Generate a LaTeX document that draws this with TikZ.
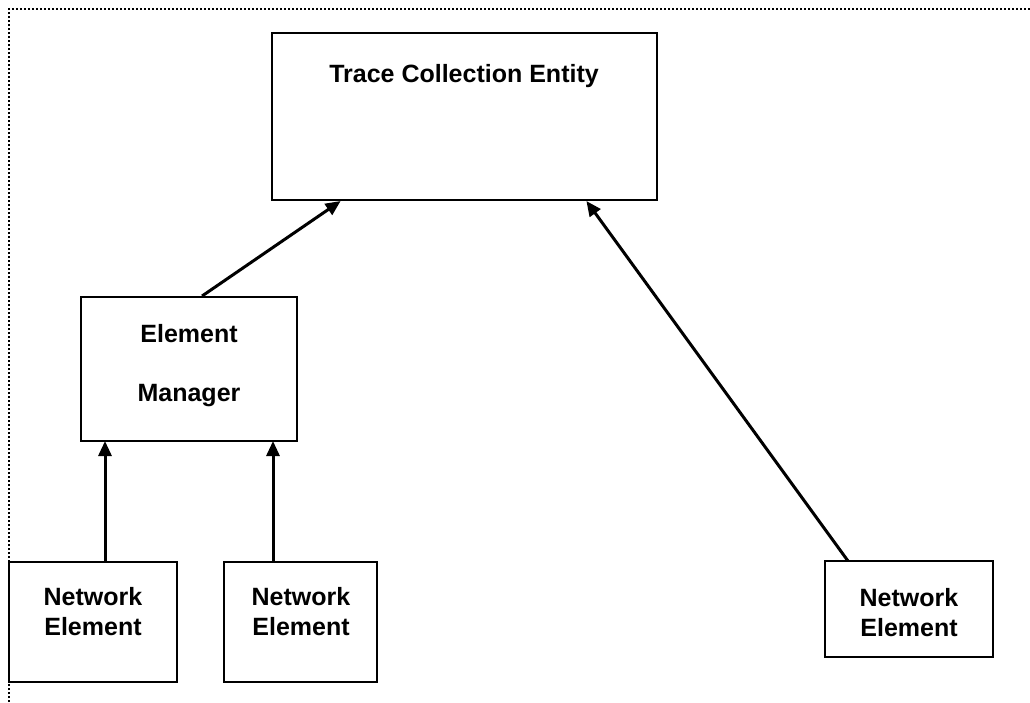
\documentclass[tikz,border=0pt]{standalone}
\usepackage{fontspec}
\setmainfont{Liberation Sans}
\usetikzlibrary{arrows.meta,calc}
\begin{document}
\begin{tikzpicture}[x=1pt,y=-1pt,
  box/.style={draw=black,line width=2pt,fill=white,inner sep=0pt},
  lbl/.style={font=\fontsize{25}{30}\selectfont\bfseries,align=center,inner sep=0pt},
  arr/.style={line width=3pt,-{Triangle[length=15pt,width=13pt]}},
  border/.style={line width=1.6pt,dash pattern=on 1.6pt off 2.4pt}]
\useasboundingbox (0,0) rectangle (1030,702);
\draw[border] (9,702) -- (9,9) -- (1030,9);
% boxes
\node[box,minimum width=385pt,minimum height=167pt] (tce) at (464.5,116.5) {};
\node[box,minimum width=216pt,minimum height=144pt] (em) at (189,369) {};
\node[box,minimum width=168pt,minimum height=120pt] (ne1) at (93,622) {};
\node[box,minimum width=153pt,minimum height=120pt] (ne2) at (300.5,622) {};
\node[box,minimum width=168pt,minimum height=96pt] (ne3) at (909,609) {};
% labels
\node[lbl] (tcel) at (464,76) {Trace Collection Entity};
\node[lbl] (eml1) at (189,334) {Element};
\node[lbl] (eml2) at (189,396) {Manager};
\node[lbl] (ne1l) at (93,612) {Network\\Element};
\node[lbl] (ne2l) at (301,612) {Network\\Element};
\node[lbl] (ne3l) at (909,613) {Network\\Element};
% connector end points
\coordinate (emtop) at ($(em.north west)!0.56!(em.north east)$);
\coordinate (tceA) at ($(tce.south west)!0.18!(tce.south east)$);
\coordinate (tceB) at ($(tce.south west)!0.815!(tce.south east)$);
\coordinate (ne1top) at (105,562);
\coordinate (ne2top) at (273,562);
\coordinate (embl) at (105,441);
\coordinate (embr) at (273,441);
\coordinate (ne3top) at (848,561);
\draw[arr] (emtop) -- (tceA);
\draw[arr] (ne3top) -- (tceB);
\draw[arr] (ne1top) -- (embl);
\draw[arr] (ne2top) -- (embr);
\end{tikzpicture}
\end{document}
